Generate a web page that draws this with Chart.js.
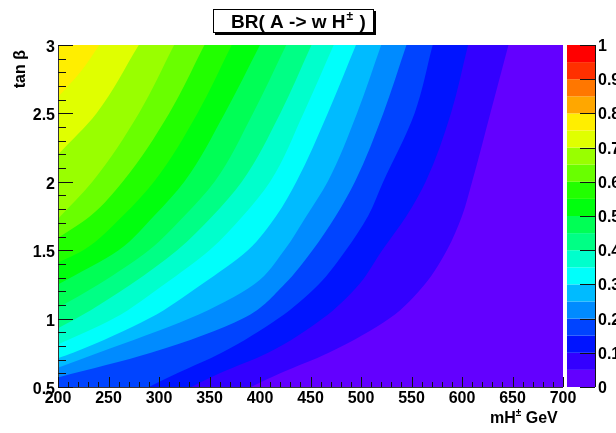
<!DOCTYPE html>
<html><head><meta charset="utf-8">
<script src="https://cdn.jsdelivr.net/npm/chart.js@4.4.0/dist/chart.umd.min.js"></script>
<style>html,body{margin:0;padding:0;background:#fff}canvas{display:block}</style>
</head><body>
<canvas id="c" width="616" height="433"></canvas>
<script>
// Contour levels of BR(A -> W H+-) and their boundaries as [tan beta, mH] pairs
const levels = [0.75, 0.70, 0.65, 0.60, 0.55, 0.50, 0.45, 0.40, 0.35, 0.30, 0.25, 0.20, 0.15, 0.10, 0.05];
const c75 = [[2.62,200],[2.8,222],[3.0,241]];
const c70 = [[2.2,200],[2.5,238],[3.0,280]];
const c65 = [[1.73,200],[2.0,234],[2.5,280],[3.0,315]];
const c60 = [[1.59,200],[1.75,232],[2.0,264],[2.5,310],[3.0,345]];
const c55 = [[1.41,200],[1.5,225],[1.75,264],[2.0,295],[2.5,338],[3.0,372]];
const c50 = [[1.25,200],[1.5,260],[1.75,295],[2.0,325],[2.5,365],[3.0,400]];
const c45 = [[1.08,200],[1.25,240],[1.5,290],[1.75,325],[2.0,355],[2.5,393],[3.0,426]];
const c40 = [[0.93,200],[1.0,218],[1.25,272],[1.5,318],[1.75,353],[2.0,382],[2.5,420],[3.0,451]];
const c35 = [[0.81,200],[1.0,255],[1.25,305],[1.5,350],[1.75,383],[2.0,410],[2.5,443],[3.0,473]];
const c30 = [[0.71,200],[0.75,215],[1.0,290],[1.25,342],[1.5,388],[1.75,416],[2.0,436],[2.5,467],[3.0,495]];
const c25 = [[0.64,200],[0.75,240],[1.0,330],[1.25,394],[1.5,424],[1.75,446],[2.0,467],[2.5,496],[3.0,520]];
const c20 = [[0.57,200],[0.75,292],[1.0,383],[1.25,424],[1.5,452],[1.75,475],[2.0,494],[2.5,522],[3.0,545]];
const c15 = [[0.5,290],[0.6,318],[0.75,362],[1.0,418],[1.25,458],[1.5,485],[1.75,507],[2.0,522],[2.5,553],[3.0,571]];
const c10 = [[0.5,332],[0.6,360],[0.75,408],[1.0,462],[1.25,498],[1.5,521],[1.75,545],[2.0,564],[2.5,589],[3.0,606]];
const c05 = [[0.5,391],[0.6,420],[0.75,468],[1.0,528],[1.25,563],[1.5,585],[1.75,600],[2.0,610],[2.5,628],[3.0,646]];
const contours = [c75,c70,c65,c60,c55,c50,c45,c40,c35,c30,c25,c20,c15,c10,c05];

const xTicks = [200,250,300,350,400,450,500,550,600,650,700];
const yTicks = [0.5,1,1.5,2,2.5,3];
const zTicks = [0,0.1,0.2,0.3,0.4,0.5,0.6,0.7,0.8,0.9,1];
const zBins = 20;

// ROOT "pretty" palette, one colour per 0.05 bin
const palette = ['#6300ff','#3300ff','#0014ff','#0044ff','#008bff','#00bbff','#00fffb','#00ffcc','#00ff85','#00ff55',
                 '#00ff0e','#22ff00','#69ff00','#99ff00','#e0ff00','#ffee00','#ffa700','#ff7700','#ff3000','#ff0000'];

const datasets = levels.map((lv, i) => ({
  label: 'BR > ' + lv,
  data: contours[i].map(p => ({x: p[1], y: p[0]})),
  fill: {value: 200},
  backgroundColor: palette[Math.round(lv / 0.05)],
  borderColor: 'rgba(0,0,0,0)',
  borderWidth: 0,
  pointRadius: 0,
  cubicInterpolationMode: 'monotone'
}));

const FONT = 'bold 16px "Liberation Sans", Arial, sans-serif';

const deco = {
  id: 'deco',
  beforeDatasetsDraw(chart) {
    const {ctx, chartArea: a} = chart;
    ctx.save();
    ctx.fillStyle = palette[0];
    ctx.fillRect(a.left, a.top, a.right - a.left, a.bottom - a.top);
    ctx.restore();
  },
  afterDraw(chart) {
    const {ctx, chartArea: a, scales} = chart;
    const xs = scales.x, ys = scales.y, zs = scales.z;
    ctx.save();
    // axis lines
    ctx.strokeStyle = '#333'; ctx.lineWidth = 1;
    ctx.beginPath();
    ctx.moveTo(a.left + 0.5, a.top); ctx.lineTo(a.left + 0.5, a.bottom + 0.5);
    ctx.lineTo(a.right, a.bottom + 0.5);
    ctx.stroke();
    // x ticks (inward)
    ctx.strokeStyle = '#111';
    ctx.beginPath();
    for (let v = xTicks[0]; v <= xTicks[xTicks.length - 1] + 0.001; v += 10) {
      const px = Math.round(xs.getPixelForValue(v)) + 0.5;
      const major = Math.abs((v - 200) % 50) < 0.001;
      ctx.moveTo(px, a.bottom); ctx.lineTo(px, a.bottom - (major ? 10 : 5));
    }
    for (let v = yTicks[0]; v <= yTicks[yTicks.length - 1] + 0.001; v += 0.1) {
      const py = Math.round(ys.getPixelForValue(v)) + 0.5;
      const major = Math.abs(Math.round(v * 2) - v * 2) < 0.001;
      ctx.moveTo(a.left, py); ctx.lineTo(a.left + (major ? 15 : 8), py);
    }
    ctx.stroke();
    // tick labels
    ctx.fillStyle = '#000'; ctx.font = FONT;
    ctx.textAlign = 'center'; ctx.textBaseline = 'alphabetic';
    xTicks.forEach(v => ctx.fillText(String(v), xs.getPixelForValue(v), a.bottom + 16));
    ctx.textAlign = 'right';
    yTicks.forEach(v => ctx.fillText(String(v), a.left - 3, ys.getPixelForValue(v) + 7));
    // colour bar
    const bx0 = 567, bx1 = 595;
    for (let j = 0; j < zBins; j++) {
      const y0 = zs.getPixelForValue(j / zBins), y1 = zs.getPixelForValue((j + 1) / zBins);
      ctx.fillStyle = palette[j];
      ctx.fillRect(bx0, y1, bx1 - bx0, y0 - y1);
    }
    ctx.strokeStyle = '#111';
    ctx.beginPath();
    ctx.moveTo(bx1 + 0.5, a.top); ctx.lineTo(bx1 + 0.5, a.bottom);
    zTicks.forEach(v => { const py = Math.round(zs.getPixelForValue(v)) + 0.5; ctx.moveTo(bx1, py); ctx.lineTo(bx1 - 15, py); });
    ctx.stroke();
    ctx.fillStyle = '#000'; ctx.textAlign = 'left';
    zTicks.forEach(v => ctx.fillText(String(v), 598, zs.getPixelForValue(v) + 6));
    // axis titles
    ctx.textAlign = 'left';
    let x = 490; const by = 423;
    ctx.fillText('mH', x, by); x += ctx.measureText('mH').width;
    ctx.font = 'bold 10px "Liberation Sans", Arial, sans-serif';
    ctx.fillText('\u00b1', x, by - 7); x += ctx.measureText('\u00b1').width;
    ctx.font = FONT;
    ctx.fillText(' GeV', x, by);
    ctx.save();
    ctx.translate(25, 50); ctx.rotate(-Math.PI / 2);
    ctx.textAlign = 'right';
    ctx.fillText('tan \u03b2', 0, 0);
    ctx.restore();
    // title box
    ctx.fillStyle = '#fff';
    ctx.fillRect(213, 9, 161, 24);
    ctx.fillStyle = '#000';
    ctx.fillRect(374, 11, 2, 24); ctx.fillRect(215, 33, 161, 2);
    ctx.strokeStyle = '#000'; ctx.lineWidth = 1;
    ctx.strokeRect(213.5, 9.5, 160, 23);
    const TF = 'bold 19px "Liberation Sans", Arial, sans-serif';
    ctx.font = TF;
    ctx.textAlign = 'left';
    let tx = 231; const ty = 28;
    ctx.fillText('BR( A -> w H', tx, ty); tx += ctx.measureText('BR( A -> w H').width + 1;
    ctx.font = 'bold 12px "Liberation Sans", Arial, sans-serif';
    ctx.fillText('\u00b1', tx, ty - 8); tx += ctx.measureText('\u00b1').width + 1;
    ctx.font = TF;
    ctx.fillText(' )', tx, ty);
    ctx.restore();
  }
};

new Chart(document.getElementById('c'), {
  type: 'line',
  data: {datasets},
  options: {
    responsive: false, animation: false, devicePixelRatio: 1,
    indexAxis: 'y',
    layout: {padding: {left: 58, right: 53, top: 45, bottom: 46}},
    plugins: {legend: {display: false}, tooltip: {enabled: false}, title: {display: false}},
    scales: {
      x: {type: 'linear', min: 200, max: 700, display: false},
      y: {type: 'linear', min: 0.5, max: 3, display: false},
      z: {type: 'linear', axis: 'y', position: 'right', min: 0, max: 1, display: false}
    }
  },
  plugins: [deco]
});
</script>
</body></html>
